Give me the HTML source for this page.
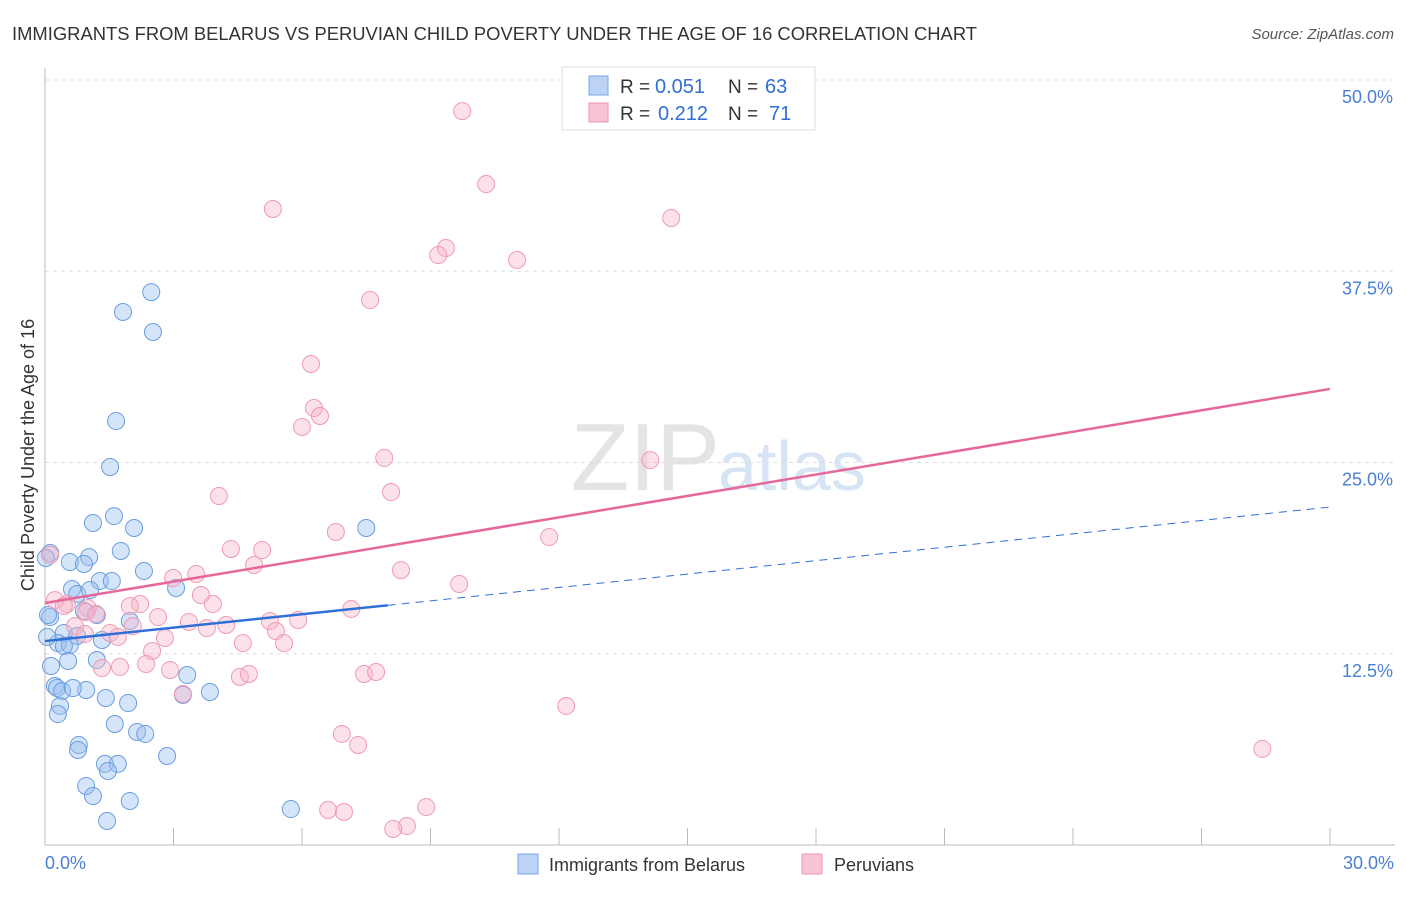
<!DOCTYPE html>
<html><head><meta charset="utf-8"><style>
body{margin:0;background:#fff;font-family:"Liberation Sans",sans-serif;}
svg text{font-family:"Liberation Sans",sans-serif;}
</style></head><body>
<svg id="chart" width="1406" height="892">
<text x="12" y="40" font-size="18.4" fill="#333">IMMIGRANTS FROM BELARUS VS PERUVIAN CHILD POVERTY UNDER THE AGE OF 16 CORRELATION CHART</text>
<text x="1394" y="39" font-size="15" fill="#555" font-style="italic" text-anchor="end">Source: ZipAtlas.com</text>
<text x="720" y="490" font-size="96" fill="#e4e4e4" text-anchor="end" font-family="Liberation Serif">ZIP</text>
<text x="718" y="490" font-size="70" fill="#d6e4f4">atlas</text>
<g id="grid"></g>
<line x1="45" y1="68" x2="45" y2="845" stroke="#bbb"/>
<line x1="45" y1="845" x2="1395" y2="845" stroke="#bbb"/>
<g id="xticks"></g>
<text x="45" y="869" font-size="18" fill="#4a7fd4">0.0%</text>
<text x="1394" y="869" font-size="18" fill="#4a7fd4" text-anchor="end">30.0%</text>
<text transform="translate(34,455) rotate(-90)" font-size="18" fill="#333" text-anchor="middle">Child Poverty Under the Age of 16</text>
<g id="pts"></g>
<g id="trends"></g>
<g>
<rect x="562" y="67" width="253" height="63" fill="#fff" stroke="#ddd"/>
<rect x="589" y="76" width="19" height="19" fill="#bcd3f5" stroke="#7aa5e5"/>
<text y="93" font-size="19" fill="#333"><tspan x="620">R =</tspan><tspan x="655" fill="#2f6fd6" font-size="20">0.051</tspan><tspan x="728">N =</tspan><tspan x="765" fill="#2f6fd6" font-size="20">63</tspan></text>
<rect x="589" y="103" width="19" height="19" fill="#f8c4d4" stroke="#ee93b0"/>
<text y="120" font-size="19" fill="#333"><tspan x="620">R =</tspan><tspan x="658" fill="#2f6fd6" font-size="20">0.212</tspan><tspan x="728">N =</tspan><tspan x="769" fill="#2f6fd6" font-size="20">71</tspan></text>
</g>
<g>
<rect x="518" y="854" width="20" height="20" fill="#bcd3f5" stroke="#7aa5e5"/>
<text x="549" y="871" font-size="18" fill="#333">Immigrants from Belarus</text>
<rect x="802" y="854" width="20" height="20" fill="#f8c4d4" stroke="#ee93b0"/>
<text x="834" y="871" font-size="18" fill="#333">Peruvians</text>
</g>
</svg>
<script>
const yTicks=[12.5,25,37.5,50];
const yTickLabels=["12.5%","25.0%","37.5%","50.0%"];
const xTicks=[0,3,6,9,12,15,18,21,24,27,30];
const belarusX=[2.48,1.82,2.52,1.66,1.52,1.61,1.12,2.08,7.50,0.12,1.77,1.03,0.58,0.91,2.31,1.28,1.56,0.63,0.75,1.05,3.06,0.91,1.21,0.12,1.98,0.44,0.75,1.33,0.30,0.58,0.44,0.14,0.54,1.21,3.32,0.23,0.28,0.40,0.96,0.65,3.85,3.22,1.42,1.94,0.35,0.30,1.63,2.15,2.34,0.79,0.77,2.85,1.40,1.70,1.47,0.96,1.12,1.98,5.74,1.45,0.02,0.07,0.05];
const belarusY=[37.25,35.95,34.64,28.82,25.82,22.61,22.16,21.83,21.83,20.20,20.33,19.93,19.61,19.48,19.02,18.37,18.37,17.84,17.52,17.78,17.91,16.41,16.14,16.01,15.75,14.97,14.77,14.51,14.31,14.18,14.12,12.81,13.14,13.20,12.22,11.50,11.37,11.18,11.24,11.37,11.11,10.92,10.72,10.39,10.20,9.67,9.02,8.50,8.37,7.65,7.32,6.93,6.41,6.41,5.95,4.97,4.31,3.99,3.46,2.68,19.87,16.14,14.71];
const peruX=[9.74,10.30,5.32,14.62,9.36,9.18,11.02,7.59,6.21,6.28,6.42,6.00,14.13,7.92,8.08,4.06,6.79,11.77,4.34,5.07,4.88,8.31,2.99,3.53,9.67,3.64,3.92,0.51,1.00,2.22,2.64,7.15,1.98,1.19,0.70,3.36,5.91,5.25,4.23,2.05,3.78,1.52,5.39,0.93,1.70,4.62,5.58,2.80,2.50,2.92,2.36,1.75,1.33,3.22,4.55,4.76,7.45,7.73,12.17,6.93,7.31,28.42,8.90,6.61,6.98,8.45,8.13,0.12,0.23,0.44,0.96];
const peruY=[49.08,44.31,42.68,42.09,40.13,39.67,39.35,36.73,32.55,29.67,29.15,28.43,26.27,26.41,24.18,23.92,21.57,21.24,20.46,20.39,19.41,19.08,18.56,18.82,18.17,17.45,16.86,16.86,16.60,16.86,16.01,16.54,16.73,16.21,15.42,15.69,15.82,15.75,15.49,15.42,15.29,14.97,15.10,14.90,14.71,14.31,14.31,14.64,13.79,12.55,12.94,12.75,12.68,10.98,12.09,12.29,12.29,12.42,10.20,8.37,7.65,7.39,3.59,3.40,3.27,2.35,2.16,20.07,17.12,16.73,16.34];
const belarusTrend=[14.44,23.2];
const peruTrend=[16.93,30.92];
const belarusSolidEnd=8.0;

const NS="http://www.w3.org/2000/svg";
const xS=v=>45+v/30*1285;
const yS=v=>862-v*15.3;
function mk(tag,attrs,parent){const e=document.createElementNS(NS,tag);for(const k in attrs)e.setAttribute(k,attrs[k]);document.getElementById(parent).appendChild(e);return e;}
yTicks.forEach((t,i)=>{
 const g=mk('line',{x1:45,x2:1395,y1:yS(t)-17,y2:yS(t)-17,stroke:'#ddd','stroke-dasharray':'4,4'},'grid');
 
 
 const l=mk('text',{x:1393,y:yS(t)+6,'font-size':18,fill:'#4a7fd4','text-anchor':'end'},'grid');
 l.textContent=yTickLabels[i];
 
 
});
mk('line',{x1:45,x2:1395,y1:80,y2:80,stroke:'#ddd','stroke-dasharray':'4,4'},'grid');
xTicks.forEach(t=>{
 const e=mk('line',{x1:xS(t),x2:xS(t),y1:828,y2:845,stroke:'#bbb'},'xticks');
 
 
});
belarusX.forEach((x,i)=>{
 const c=mk('circle',{cx:xS(x),cy:yS(belarusY[i]),r:8.5,fill:'rgba(150,190,240,0.4)',stroke:'#6a9de0','stroke-width':1},'pts');
 
 
});
peruX.forEach((x,i)=>{
 const c=mk('circle',{cx:xS(x),cy:yS(peruY[i]),r:8.5,fill:'rgba(248,180,200,0.4)',stroke:'#ef9ab5','stroke-width':1},'pts');
 
 
});
const bAt=v=>belarusTrend[0]+(belarusTrend[1]-belarusTrend[0])*v/30;
let t1=mk('line',{x1:xS(0),y1:yS(bAt(0)),x2:xS(belarusSolidEnd),y2:yS(bAt(belarusSolidEnd)),stroke:'#2f6fd6','stroke-width':2.5},'trends');


let t2=mk('line',{x1:xS(belarusSolidEnd),y1:yS(bAt(belarusSolidEnd)),x2:xS(30),y2:yS(bAt(30)),stroke:'#2f6fd6','stroke-width':1,'stroke-dasharray':'8,6'},'trends');


let t3=mk('line',{x1:xS(0),y1:yS(peruTrend[0]),x2:xS(30),y2:yS(peruTrend[1]),stroke:'#e8679a','stroke-width':2.5},'trends');


</script>
</body></html>
